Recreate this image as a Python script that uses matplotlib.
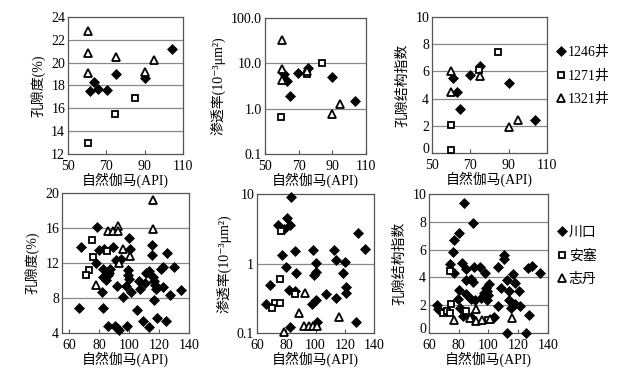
import matplotlib
matplotlib.use('Agg')
import matplotlib.pyplot as plt
from matplotlib.ticker import FixedLocator, FixedFormatter, NullLocator

plt.rcParams['font.family'] = ['Liberation Serif', 'Noto Sans CJK SC', 'DejaVu Sans']
plt.rcParams['font.size'] = 9

# ---- top row: three wells ----
well_names = ['1246井', '1271井', '1321井']

gr_1246   = [61.4, 63.5, 65.4, 70.3, 75.0, 90.4, 104.2]
por_1246  = [17.5, 18.3, 17.7, 17.6, 19.0, 18.7, 21.2]
gr_1271   = [60.3, 74.7, 85.1]
por_1271  = [13.0, 15.5, 16.9]
gr_1321   = [60.5, 60.5, 60.5, 75.0, 90.2, 95.1]
por_1321  = [22.8, 20.85, 19.1, 20.5, 19.2, 20.2]

pgr_1246  = [61.2, 62.8, 64.9, 69.7, 75.3, 90.0, 103.4]
perm_1246 = [5.9, 4.1, 1.95, 6.1, 8.0, 5.1, 1.44]
pgr_1271  = [59.8, 74.7, 84.1]
perm_1271 = [0.65, 5.9, 10.1]
pgr_1321  = [60.4, 60.4, 60.4, 75.1, 90.0, 94.8]
perm_1321 = [32.0, 7.5, 4.3, 6.9, 0.77, 1.3]

igr_1246  = [60.9, 63.0, 64.7, 69.6, 75.3, 90.1, 103.8]
idx_1246  = [5.5, 4.5, 3.2, 5.7, 6.4, 5.15, 2.4]
igr_1271  = [59.9, 59.9, 74.7, 84.3]
idx_1271  = [2.05, 0.2, 6.1, 7.45]
igr_1321  = [60.0, 60.0, 75.1, 90.0, 94.8]
idx_1321  = [6.0, 4.5, 5.65, 1.9, 2.4]

# ---- bottom row: three areas ----
area_names = ['川口', '安塞', '志丹']

gr_ck  = [78.2, 67.4, 80.0, 83.3, 89.4, 99.5, 100.6, 77.7, 82.6, 87.1, 91.2, 94.5,
          82.6, 84.4, 86.0, 86.7, 81.5, 91.6, 95.7, 66.5, 82.6, 86.0, 90.5, 92.1,
          93.4, 98.3, 99.2, 99.2, 99.9, 101.0, 97.9, 106.6, 107.3, 110.4, 111.1,
          113.4, 115.6, 116.3, 117.2, 117.8, 116.3, 114.9, 114.9, 125.2, 121.2,
          122.3, 122.3, 127.5, 129.7, 134.7, 105.1, 108.9, 113.4, 118.5, 124.6]
por_ck = [16.1, 13.8, 13.5, 13.6, 13.8, 14.8, 13.6, 12.0, 11.3, 11.3, 12.3, 12.5,
          10.4, 10.1, 10.6, 10.9, 8.7, 9.4, 8.1, 6.9, 6.9, 4.8, 4.8, 4.6,
          4.3, 4.8, 11.2, 10.6, 10.2, 8.7, 9.4, 10.0, 9.0, 9.7, 10.9,
          11.1, 10.4, 10.0, 9.5, 9.0, 7.8, 14.0, 12.9, 13.1, 11.3,
          11.6, 9.3, 8.4, 11.5, 8.9, 6.6, 5.4, 4.7, 5.7, 5.4]
gr_as  = [75.2, 75.5, 85.3, 73.2, 70.8]
por_as = [14.6, 12.7, 13.4, 11.2, 10.6]
gr_zd  = [85.6, 88.9, 92.7, 92.7, 95.7, 93.4, 77.7, 115.8, 115.8, 100.3]
por_zd = [15.7, 15.7, 16.2, 15.6, 13.6, 12.0, 9.5, 19.2, 15.9, 12.8]

pgr_ck  = [83.5, 80.8, 74.4, 82.4, 78.5, 77.4, 86.3, 98.4, 79.7, 87.0, 68.7, 81.7,
           86.3, 66.4, 82.4, 129.0, 133.6, 112.6, 113.7, 120.1, 100.0, 100.0, 98.9,
           118.7, 121.0, 121.0, 106.9, 113.7, 100.0, 97.3, 127.4, 100.7]
perm_ck = [9.2, 4.46, 3.57, 3.57, 3.09, 1.32, 1.52, 1.56, 0.895, 0.73, 0.49, 0.41,
           0.40, 0.265, 0.122, 2.71, 1.64, 1.56, 1.12, 1.06, 1.02, 0.76, 0.68,
           0.73, 0.46, 0.38, 0.36, 0.32, 0.30, 0.26, 0.144, 0.144]
pgr_as  = [76.2, 75.5, 85.8, 72.1, 75.5, 70.3]
perm_as = [2.96, 0.59, 0.36, 0.27, 0.27, 0.23]
pgr_zd  = [92.7, 88.6, 78.5, 92.2, 95.4, 98.6, 116.0, 100.7]
perm_zd = [0.38, 0.194, 0.105, 0.125, 0.125, 0.125, 0.17, 0.125]

igr_ck = [83.2, 89.5, 80.3, 76.9, 76.0, 74.2, 76.9, 82.1, 85.0, 90.4, 94.5, 97.4,
          85.0, 88.2, 89.5, 80.5, 85.0, 88.2, 91.1, 94.9, 97.2, 79.8, 65.2, 66.3,
          81.0, 82.8, 88.2, 110.7, 110.7, 106.2, 126.5, 129.4, 134.4, 116.8, 112.3,
          118.1, 108.5, 114.1, 120.4, 114.1, 117.5, 121.3, 106.2, 115.2, 103.9,
          127.2, 112.3, 124.9, 98.3, 99.2, 99.9, 97.6, 98.8, 100.6, 102.8]
idx_ck = [9.33, 7.90, 7.16, 6.67, 5.86, 4.94, 4.34, 5.06, 4.58, 4.75, 4.75, 4.34,
          3.78, 3.86, 3.69, 3.06, 2.82, 2.48, 2.41, 2.53, 2.89, 2.48, 2.00, 1.76,
          1.81, 1.25, 1.13, 5.61, 5.30, 4.75, 4.65, 4.82, 4.34, 4.22, 3.78,
          3.61, 3.25, 3.01, 3.01, 2.41, 2.10, 1.93, 1.93, 1.81, 1.13,
          1.28, 0.0, 0.0, 3.25, 3.01, 2.72, 2.65, 2.41, 3.5, 1.08]
igr_as = [74.2, 74.6, 69.2, 71.9, 74.2, 85.0, 99.5]
idx_as = [4.46, 2.10, 1.45, 1.61, 1.45, 1.61, 0.95]
igr_zd = [76.9, 91.8, 87.7, 91.8, 95.6, 115.9, 101.0]
idx_zd = [0.96, 1.76, 1.08, 0.84, 0.96, 1.08, 1.04]

x_label = '自然伽马(API)'

fig = plt.figure(figsize=(6.22, 3.71), dpi=100)
fig.patch.set_facecolor('white')

positions = [
    [0.1093, 0.5849, 0.1849, 0.3693],
    [0.4260, 0.5849, 0.1624, 0.3666],
    [0.6945, 0.5876, 0.1849, 0.3666],
    [0.0997, 0.1024, 0.2042, 0.3774],
    [0.4132, 0.1024, 0.1881, 0.3747],
    [0.6897, 0.1024, 0.1913, 0.3747],
]
axes = [fig.add_axes(p) for p in positions]


def draw(ax, xs, ys, names):
    styles = [
        dict(marker='D', ms=5.5, mfc='black', mec='black', mew=0.5),
        dict(marker='s', ms=4.2, mfc='white', mec='black', mew=1.3),
        dict(marker='^', ms=5.5, mfc='white', mec='black', mew=1.3),
    ]
    for x, y, name, st in zip(xs, ys, names, styles):
        ax.plot(x, y, linestyle='none', label=name, clip_on=False, zorder=3, **st)


def style(ax, ticks, labels, grid):
    for side in ax.spines.values():
        side.set_color('#555555')
        side.set_linewidth(0.9)
    ax.yaxis.set_major_locator(FixedLocator(ticks))
    ax.yaxis.set_major_formatter(FixedFormatter(labels))
    ax.yaxis.set_minor_locator(NullLocator())
    ax.tick_params(axis='y', length=0, pad=2, labelsize=10)
    ax.tick_params(axis='x', direction='in', length=3, pad=4, labelsize=10,
                   color='#555555')
    for g in grid:
        ax.axhline(g, color='#888888', linewidth=0.9, zorder=1)
    ax.set_xlabel(x_label, fontsize=10, labelpad=0)


def zero_label(ax):
    # the "0" sits a little above the bottom spine, clear of the x labels
    ax.annotate('0', xy=(0, 0), xycoords=('axes fraction', 'data'),
                xytext=(-2, 2.5), textcoords='offset points',
                ha='right', va='center', fontsize=10, annotation_clip=False)


# porosity, wells
ax = axes[0]
draw(ax, [gr_1246, gr_1271, gr_1321], [por_1246, por_1271, por_1321], well_names)
ax.set_xlim(50, 110)
ax.set_ylim(12, 24)
ax.set_xticks([50, 70, 90, 110])
style(ax, [12, 14, 16, 18, 20, 22, 24], ['12', '14', '16', '18', '20', '22', '24'],
      [14, 16, 18, 20, 22])
ax.set_ylabel('孔隙度(%)', fontsize=10, labelpad=4)

# permeability, wells
ax = axes[1]
draw(ax, [pgr_1246, pgr_1271, pgr_1321], [perm_1246, perm_1271, perm_1321], well_names)
ax.set_yscale('log')
ax.set_xlim(50, 110)
ax.set_ylim(0.1, 100)
ax.set_xticks([50, 70, 90, 110])
style(ax, [0.1, 1, 10, 100], ['0.1', '1.0', '10.0', '100.0'], [1, 10])
ax.set_ylabel('渗透率(10⁻³μm²)', fontsize=10, labelpad=4)

# index, wells
ax = axes[2]
draw(ax, [igr_1246, igr_1271, igr_1321], [idx_1246, idx_1271, idx_1321], well_names)
ax.set_xlim(50, 110)
ax.set_ylim(0, 10)
ax.set_xticks([50, 70, 90, 110])
style(ax, [2, 4, 6, 8, 10], ['2', '4', '6', '8', '10'], [2, 4, 6, 8])
zero_label(ax)
ax.set_ylabel('孔隙结构指数', fontsize=10, labelpad=4)
ax.legend(loc='upper left', bbox_to_anchor=(1.0, 0.85), frameon=False,
          handlelength=0.8, handletextpad=0.1, labelspacing=0.75,
          borderaxespad=0.2, fontsize=10)

# porosity, areas
ax = axes[3]
draw(ax, [gr_ck, gr_as, gr_zd], [por_ck, por_as, por_zd], area_names)
ax.set_xlim(55, 140)
ax.set_ylim(4, 20)
ax.set_xticks([60, 80, 100, 120, 140])
style(ax, [4, 8, 12, 16, 20], ['4', '8', '12', '16', '20'], [8, 12, 16])
ax.set_ylabel('孔隙度(%)', fontsize=10, labelpad=4)

# permeability, areas
ax = axes[4]
draw(ax, [pgr_ck, pgr_as, pgr_zd], [perm_ck, perm_as, perm_zd], area_names)
ax.set_yscale('log')
ax.set_xlim(60, 140)
ax.set_ylim(0.1, 10)
ax.set_xticks([60, 80, 100, 120, 140])
style(ax, [0.1, 1, 10], ['0.1', '1', '10'], [1])
ax.set_ylabel('渗透率(10⁻³μm²)', fontsize=10, labelpad=4)

# index, areas
ax = axes[5]
draw(ax, [igr_ck, igr_as, igr_zd], [idx_ck, idx_as, idx_zd], area_names)
ax.set_xlim(60, 140)
ax.set_ylim(0, 10)
ax.set_xticks([60, 80, 100, 120, 140])
style(ax, [2, 4, 6, 8, 10], ['2', '4', '6', '8', '10'], [2, 4, 6, 8])
zero_label(ax)
ax.set_ylabel('孔隙结构指数', fontsize=10, labelpad=4)
ax.legend(loc='upper left', bbox_to_anchor=(1.0, 0.83), frameon=False,
          handlelength=0.8, handletextpad=0.1, labelspacing=0.75,
          borderaxespad=0.2, fontsize=10)

fig.savefig('out.png', dpi=100, facecolor='white')
